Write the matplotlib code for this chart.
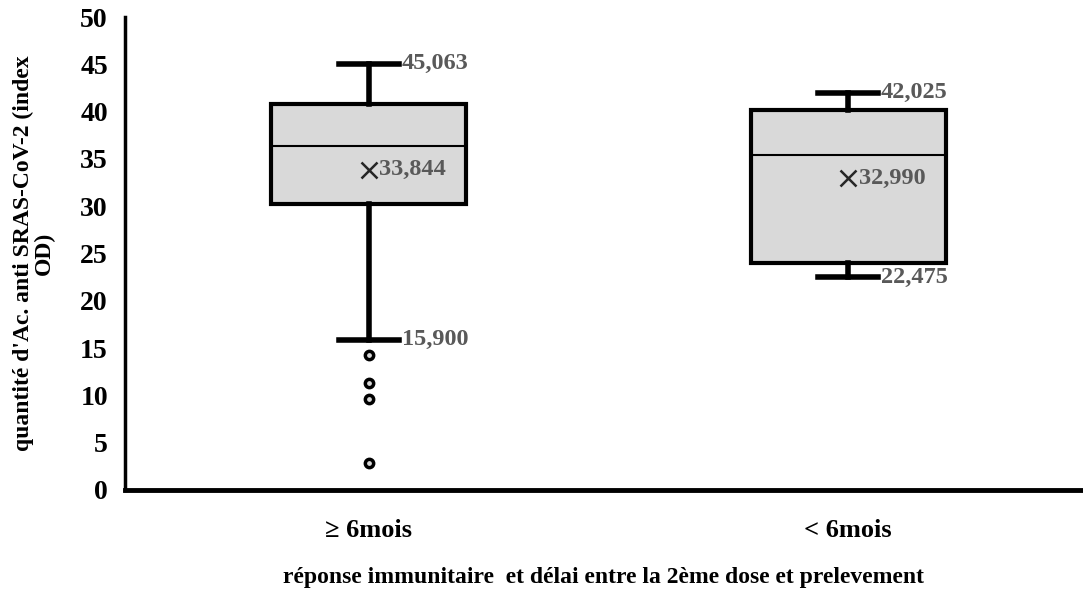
import numpy as np
import matplotlib
matplotlib.use("Agg")
import matplotlib.pyplot as plt

plt.rcParams['font.family'] = ['Liberation Serif', 'DejaVu Serif']
plt.rcParams['font.weight'] = 'bold'

categories = ['\u2265 6mois', '< 6mois']
q1 = [30.2, 24.0]
medians = [36.4, 35.4]
q3 = [40.8, 40.2]
whisker_low = [15.900, 22.475]
whisker_high = [45.063, 42.025]
means = [33.844, 32.990]
outliers = [[14.3, 11.3, 9.6, 2.85], []]

def fmt(v):
    return '{:.3f}'.format(v).replace('.', ',')

stats = []
for i in range(len(categories)):
    stats.append({'label': categories[i], 'q1': q1[i], 'med': medians[i], 'q3': q3[i],
                  'whislo': whisker_low[i], 'whishi': whisker_high[i],
                  'mean': means[i], 'fliers': outliers[i]})

fig = plt.figure(figsize=(10.83, 5.91), dpi=100)
ax = fig.add_axes([0.115, 0.171, 0.885, 0.80])

pos = np.arange(1, len(categories) + 1)
ax.bxp(stats, positions=pos, widths=0.407, patch_artist=True, showmeans=False,
       boxprops=dict(facecolor='#d9d9d9', edgecolor='black', linewidth=3),
       medianprops=dict(color='black', linewidth=1.5),
       whiskerprops=dict(color='black', linewidth=4),
       capprops=dict(color='black', linewidth=4),
       capwidths=0.125,
       flierprops=dict(marker='o', markersize=6, markerfacecolor='#d9d9d9',
                       markeredgecolor='black', markeredgewidth=2.5))

grey = '#595959'
for i, p in enumerate(pos):
    ax.plot(p, means[i], marker='x', color='#262626', markersize=12, markeredgewidth=1.8)
    ax.text(p + 0.022, means[i], fmt(means[i]), color=grey, fontsize=17.5,
            fontweight='bold', va='center', ha='left')
    ax.text(p + 0.068, whisker_high[i], fmt(whisker_high[i]), color=grey, fontsize=17.5,
            fontweight='bold', va='center', ha='left')
    ax.text(p + 0.068, whisker_low[i], fmt(whisker_low[i]), color=grey, fontsize=17.5,
            fontweight='bold', va='center', ha='left')

ax.set_xlim(0.49, 2.49)
ax.set_ylim(0, 50)
ax.set_yticks(np.arange(0, 51, 5))
ax.set_xticks(pos)
ax.set_xticklabels(categories, fontweight='bold')
ax.tick_params(axis='both', length=0)
ax.tick_params(axis='x', pad=21, labelsize=19)
ax.tick_params(axis='y', pad=12, labelsize=20)

ax.spines['top'].set_visible(False)
ax.spines['right'].set_visible(False)
ax.spines['left'].set_linewidth(2.5)
ax.spines['bottom'].set_linewidth(3.5)

ax.set_ylabel("quantité d'Ac. anti SRAS-CoV-2 (index\nOD)", fontsize=17,
              fontweight='bold', labelpad=18, linespacing=1.0)
ax.set_xlabel('réponse immunitaire  et délai entre la 2ème dose et prelevement',
              fontsize=17, fontweight='bold', labelpad=18)

fig.savefig('out.png', dpi=100)
